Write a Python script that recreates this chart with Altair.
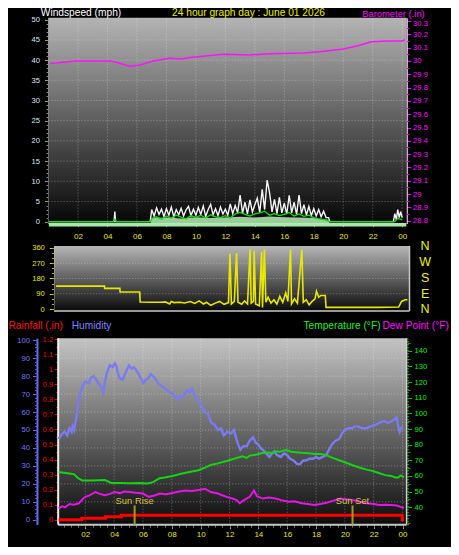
import altair as alt
import pandas as pd

# ---------------- data ----------------
TIME_TICKS = [2, 4, 6, 8, 10, 12, 14, 16, 18, 20, 22, 24]

# wind gust (mph), 10-minute readings 07:00-19:00
GUST_07 = [3.0, 1.4, 3.4, 1.8, 3.1, 1.3]
GUST_08 = [3.2, 1.6, 3.6, 1.2, 3.0, 1.7]
GUST_09 = [3.3, 1.4, 2.9, 3.8, 1.5, 3.1]
GUST_10 = [1.6, 3.5, 1.8, 3.9, 1.3, 3.0]
GUST_11 = [4.3, 1.7, 3.2, 1.5, 3.6, 1.9]
GUST_12 = [3.1, 1.6, 4.4, 2.0, 4.0, 2.2]
GUST_13 = [6.6, 2.1, 4.8, 1.9, 5.4, 2.4]
GUST_14 = [4.2, 5.8, 2.3, 8.0, 3.0, 10.3]
GUST_15 = [7.2, 2.4, 5.5, 2.0, 6.0, 2.2]
GUST_16 = [4.6, 1.9, 6.5, 2.2, 4.8, 1.8]
GUST_17 = [6.6, 2.0, 4.2, 1.6, 3.8, 1.5]
GUST_18 = [3.2, 1.4, 3.0, 1.2, 2.6, 1.0]
GUST_EDGE_H = [0.05, 4.45, 4.5, 4.55, 6.9, 19.0, 19.1, 23.4, 23.5, 23.6, 23.7, 23.8, 23.9, 24.0]
GUST_EDGE_V = [0, 0, 2.5, 0, 0, 1.0, 0, 0, 2.0, 0.5, 3.0, 1.0, 2.5, 1.0]

# average wind (mph), 20-minute readings 07:00-19:00
AVG_V = [0.8, 1.2, 0.6, 1.4, 0.9, 1.6, 1.1, 0.7, 1.5, 1.0, 1.6, 0.9,
         1.7, 1.2, 1.0, 1.5, 0.9, 1.9, 2.3, 1.8, 1.4, 1.9, 2.2, 2.6,
         1.6, 2.0, 1.5, 1.8, 2.3, 1.4, 1.9, 1.3, 1.6, 1.0, 0.7, 0.5, 0.2]
AVG_EDGE_H = [0.05, 4.4, 4.5, 4.6, 6.9, 19.1, 23.5, 23.7, 24.0]
AVG_EDGE_V = [0, 0, 0.6, 0, 0, 0, 0, 0.8, 0.5]

# wind lull (pale green band)
LULL_H = [6.95, 7, 8, 9, 10, 11, 12, 13, 14, 15, 16, 17, 18, 19, 19.05]
LULL_V = [0, 0.9, 1.0, 0.8, 1.1, 0.9, 1.0, 1.2, 1.0, 1.3, 1.1, 1.0, 0.9, 0.5, 0]

# barometer (in)
BARO_H = [0.1, 1.0, 1.8, 3.0, 4.2, 4.6, 5.5, 6.2, 7.1, 8.2, 9.0, 9.5, 10.8, 11.9,
          13.6, 15.1, 17.3, 18.4, 20.0, 21.0, 21.9, 23.0, 24.0, 24.2]
BARO_V = [29.98, 29.99, 30.0, 30.0, 30.0, 29.99, 29.96, 29.97, 30.0, 30.02, 30.015, 30.025,
          30.04, 30.05, 30.045, 30.055, 30.06, 30.07, 30.09, 30.115, 30.145, 30.15, 30.15, 30.16]

# wind direction (degrees)
DIR_H = [0.05, 3.35, 3.36, 4.4, 4.41, 5.75, 5.78, 6.5, 7.2, 7.5, 7.8, 7.9, 8.1, 8.5, 8.8,
         9.2, 9.5, 9.8, 10.1, 10.3, 10.6, 10.9, 11.2, 11.5, 11.8, 11.9, 12.0, 12.2, 12.35,
         12.45, 12.7, 12.9, 13.1, 13.27, 13.35, 13.5, 13.55, 13.65, 13.9, 14.06, 14.12,
         14.25, 14.35, 14.5, 14.7, 14.9, 15.1, 15.3, 15.5, 15.7, 15.85, 16.03, 16.1, 16.3,
         16.5, 16.8, 16.9, 17.1, 17.3, 17.5, 17.7, 17.8, 17.95, 18.1, 18.4, 18.45, 20.0,
         22.0, 23.4, 23.6, 23.85, 24.0]
DIR_V = [135, 135, 122, 122, 100, 100, 42, 40, 40, 42, 30, 45, 38, 40, 36,
         44, 33, 48, 30, 40, 22, 35, 45, 28, 38, 326, 30, 45, 330,
         40, 28, 48, 30, 352, 35, 45, 343, 30, 20, 337, 10,
         352, 40, 70, 35, 55, 30, 75, 40, 95, 45, 350, 30, 60,
         35, 350, 40, 55, 25, 45, 60, 105, 70, 80, 80, 10, 10,
         10, 12, 45, 55, 55]

# humidity (%)
HUM_H = [0.15, 0.4, 0.56, 0.75, 0.9, 1.05, 1.12, 1.23, 1.4, 1.56, 1.79, 2.0, 2.24, 2.4,
         2.57, 2.75, 2.9, 3.1, 3.24, 3.35, 3.47, 3.6, 3.7, 3.9, 4.05, 4.14, 4.25, 4.36,
         4.58, 4.8, 5.03, 5.2, 5.37, 5.55, 5.7, 5.9, 6.04, 6.2, 6.38, 6.55, 6.7, 6.9, 7.05,
         7.2, 7.38, 7.7, 8.05, 8.2, 8.4, 8.55, 8.72, 8.9, 9.06, 9.25, 9.4, 9.55, 9.73, 9.9,
         10.07, 10.3, 10.5, 10.74, 10.96, 11.2, 11.4, 11.6, 11.86, 12.08, 12.3, 12.4, 12.6,
         12.75, 12.95, 13.2, 13.4, 13.64, 13.8, 13.98, 14.15, 14.3, 14.55, 14.77, 14.95,
         15.1, 15.3, 15.55, 15.8, 16.0, 16.2, 16.44, 16.7, 16.9, 17.1, 17.3, 17.55, 17.8,
         18.0, 18.2, 18.45, 18.7, 18.9, 19.1, 19.35, 19.6, 19.8, 20.0, 20.25, 20.5, 20.7,
         20.9, 21.2, 21.5, 21.8, 22.15, 22.4, 22.7, 23.0, 23.27, 23.45, 23.6, 23.7, 23.8,
         23.9, 24.0]
HUM_V = [45, 48, 49, 47, 51, 49, 52, 50, 58, 67, 74, 77, 76, 79,
         80, 78, 76, 74, 71, 76, 81, 84, 86, 85, 87, 86, 82, 79,
         78, 82, 86, 84, 85, 83, 81, 78, 76, 78, 79, 81, 80, 78, 76,
         75, 74, 72, 70, 69, 67, 69, 68, 70, 72, 71, 73, 70, 67, 66,
         63, 60, 59, 54, 53, 50, 51, 47, 49, 48, 50, 47, 42,
         39, 41, 41, 44, 46, 43, 42, 40, 39, 37, 35, 37,
         38, 36, 35, 37, 36, 34, 33, 31, 31, 33, 33, 34, 34,
         35, 34, 35, 36, 39, 42, 44, 45, 48, 50, 51, 51, 52,
         52, 51, 51, 52, 53, 54, 55, 54, 55, 56, 57, 52, 49,
         51, 52]

# temperature (F)
TEMP_H = [0.15, 0.9, 1.23, 1.5, 1.8, 2.5, 3.36, 3.8, 4.5, 5.0, 5.8, 6.3, 6.7, 7.16, 7.5,
          8.05, 8.5, 8.95, 9.4, 9.85, 10.3, 10.7, 11.2, 11.6, 12.0, 12.5, 12.9, 13.2, 13.4,
          13.8, 14.3, 14.7, 15.0, 15.2, 15.5, 15.9, 16.3, 16.6, 17.0, 17.5, 17.9, 18.3, 18.6,
          18.9, 19.2, 19.6, 20.1, 20.5, 21.0, 21.5, 21.9, 22.3, 22.8, 23.2, 23.5, 23.7,
          23.85, 23.95, 24.1]
TEMP_V = [62.5, 61.5, 61, 58.5, 57, 57, 57.3, 55.5, 55.5, 55.3, 55.5, 55.2, 56, 58.5, 59,
          60, 61, 62, 62.8, 63.6, 65.3, 67, 68, 69, 70, 71.5, 72.5, 71.5, 73,
          73.5, 74.6, 75, 74.6, 75.8, 75.5, 76.5, 75.5, 75.2, 74.8, 74.5, 74, 74, 73.6,
          72.5, 71.4, 70, 68.4, 67, 65.4, 64, 63.2, 62, 60.5, 60, 59, 59,
          60.2, 60, 59]

# dew point (F)
DEW_H = [0.15, 0.4, 0.6, 0.9, 1.2, 1.56, 1.8, 2.0, 2.3, 2.7, 3.0, 3.36, 3.7, 4.03, 4.4, 4.7,
         5.1, 5.5, 6.0, 6.4, 6.8, 7.16, 7.6, 8.05, 8.5, 8.95, 9.4, 9.85, 10.3, 10.7, 11.2,
         11.5, 11.8, 12.2, 12.5, 12.7, 13.0, 13.4, 13.7, 13.9, 14.3, 14.7, 15.2, 15.6, 16.1,
         16.5, 17.0, 17.4, 17.9, 18.3, 18.8, 19.2, 19.7, 20.1, 20.6, 21.0, 21.5, 22.0, 22.4,
         22.8, 23.2, 23.6, 23.9, 24.1]
DEW_V = [39.4, 40.5, 39.8, 42, 41.5, 42.5, 45, 46.6, 47.5, 49.7, 48.5, 47.6, 48.5, 49.7, 49, 50,
         49.7, 49.2, 48.7, 46.6, 47.5, 48.7, 48.2, 49, 50, 50.7, 50.3, 51, 51.8, 49.7, 48.7,
         47.6, 46.6, 45.5, 44.5, 42.5, 44.5, 46.6, 50.7, 47, 45.5, 46.2, 45.5, 44.5, 43.5,
         43.8, 42.5, 42, 41.4, 42, 43, 44.2, 45.5, 45, 44.5, 43.5, 42.5, 42, 41.4,
         41.6, 41.4, 41, 40, 39.6]

# rainfall (in), cumulative step
RAIN_H = [0.15, 1.75, 3.4, 4.5, 23.98, 24.1]
RAIN_V = [0.0, 0.01, 0.02, 0.03, 0.0, 0.0]

# sun events
SUN_LABELS = ["Sun Rise", "Sun Set"]
SUN_H = [5.42, 20.53]

COMPASS = ["N", "W", "S", "E", "N"]
COMPASS_DEG = [369, 274, 183, 86, 0]

# ---------------- geometry (reference pixels -> chart pixels) ----------------
W, H = 443, 539
SX, SY = W / 459.0, H / 555.0


def px(v):
    return v * SX


def py(v):
    return v * SY


FONT = "Liberation Sans"


def xscale(dom, left, right):
    return alt.Scale(domain=dom, range=[px(left), px(right)], nice=False, zero=False)


def yscale(dom, bottom, top):
    return alt.Scale(domain=dom, range=[py(bottom), py(top)], nice=False, zero=False)


XT_DOM = [0, 24.3]
XT = xscale(XT_DOM, 42, 413)
YW_DOM = [-0.48, 50.5]
YW = yscale(YW_DOM, 222, 10)
YB_DOM = [28.778, 30.325]
YB = yscale(YB_DOM, 222, 10)

XM_DOM = [-0.07, 24.14]
XM = xscale(XM_DOM, 48, 416)
YD_DOM = [-11.4, 371.4]
YD = yscale(YD_DOM, 312, 245)

XL_DOM = [0.12, 24.28]
XL = xscale(XL_DOM, 52, 413)
YH_DOM = [-2.7, 101.1]
YH = yscale(YH_DOM, 532, 340)
YR_DOM = [-0.032, 1.206]
YR = yscale(YR_DOM, 532, 340)
YT_DOM = [28.8, 148.1]
YT = yscale(YT_DOM, 532, 340)


# ---------------- helpers ----------------
def panel_bg(xs, xd, ys, yd, c_top, c_bot):
    df = pd.DataFrame({"x": [xd[0]], "x2": [xd[1]], "y": [yd[0]], "y2": [yd[1]]})
    grad = alt.LinearGradient(
        gradient="linear",
        stops=[alt.GradientStop(color=c_top, offset=0), alt.GradientStop(color=c_bot, offset=1)],
        x1=0, x2=0, y1=0, y2=1)
    return alt.Chart(df).mark_rect(fill=grad).encode(
        x=alt.X("x:Q", scale=xs, axis=None), x2="x2:Q",
        y=alt.Y("y:Q", scale=ys, axis=None), y2="y2:Q")


def rule_kw(color, width, dash, opacity):
    kw = dict(color=color, strokeWidth=width, opacity=opacity)
    if dash:
        kw["strokeDash"] = dash
    return kw


def vlines(xs, vals, ys, lo, hi, color, width=1, dash=None, opacity=1.0):
    df = pd.DataFrame({"x": vals, "y": [lo] * len(vals), "y2": [hi] * len(vals)})
    return alt.Chart(df).mark_rule(**rule_kw(color, width, dash, opacity)).encode(
        x=alt.X("x:Q", scale=xs, axis=None),
        y=alt.Y("y:Q", scale=ys, axis=None), y2="y2:Q")


def hlines(ys, vals, xs, lo, hi, color, width=1, dash=None, opacity=1.0):
    df = pd.DataFrame({"y": vals, "x": [lo] * len(vals), "x2": [hi] * len(vals)})
    return alt.Chart(df).mark_rule(**rule_kw(color, width, dash, opacity)).encode(
        y=alt.Y("y:Q", scale=ys, axis=None),
        x=alt.X("x:Q", scale=xs, axis=None), x2="x2:Q")


def series(xs, ys, hs, vs, color, width, interpolate=None, opacity=1.0):
    df = pd.DataFrame({"h": hs, "v": vs})
    kw = dict(color=color, strokeWidth=width, opacity=opacity)
    if interpolate:
        kw["interpolate"] = interpolate
    return alt.Chart(df).mark_line(**kw).encode(
        x=alt.X("h:Q", scale=xs, axis=None),
        y=alt.Y("v:Q", scale=ys, axis=None))


BASE_AXIS = dict(grid=False, title=None, labelFont=FONT, labelFlush=False, labelOverlap=False)


def y_axis(xs, xd, ys, yd, **kw):
    df = pd.DataFrame({"x": [xd[0], xd[0]], "y": yd})
    ax = dict(BASE_AXIS)
    ax.update(kw)
    return alt.Chart(df).mark_point(opacity=0).encode(
        x=alt.X("x:Q", scale=xs, axis=None),
        y=alt.Y("y:Q", scale=ys, axis=alt.Axis(**ax)))


def x_axis(xs, xd, ys, yd, **kw):
    df = pd.DataFrame({"x": xd, "y": [yd[0], yd[0]]})
    ax = dict(BASE_AXIS)
    ax.update(kw)
    return alt.Chart(df).mark_point(opacity=0).encode(
        x=alt.X("x:Q", scale=xs, axis=alt.Axis(**ax)),
        y=alt.Y("y:Q", scale=ys, axis=None))


def title_text(txt, x, y, color, align="left", size=10.2):
    return alt.Chart(pd.DataFrame({"t": [txt]})).mark_text(
        align=align, baseline="alphabetic", font=FONT, fontSize=size, color=color
    ).encode(text="t:N", x=alt.value(px(x)), y=alt.value(py(y)))


TIME_EXPR = "datum.value == 24 ? '00' : (datum.value < 10 ? '0' + datum.value : '' + datum.value)"
GRID = dict(color="white", width=1, dash=[1, 2], opacity=0.35)

layers = []

# ================= TOP PANEL: wind speed + barometer =================
layers.append(panel_bg(XT, XT_DOM, YW, YW_DOM, "#b4b4b4", "#060606"))
layers.append(vlines(XT, TIME_TICKS, YW, YW_DOM[0], YW_DOM[1], **GRID))
layers.append(hlines(YW, [5, 10, 15, 20, 25, 30, 35, 40, 45], XT, XT_DOM[0], XT_DOM[1], **GRID))
layers.append(hlines(YW, [-0.75], XT, 0.02, 24.28, "#a8e8a8", 3.5))

lull_df = pd.DataFrame({"h": LULL_H, "v": LULL_V, "b": [-0.5] * len(LULL_H)})
layers.append(alt.Chart(lull_df).mark_area(color="#b4f0b4", opacity=0.85).encode(
    x=alt.X("h:Q", scale=XT, axis=None),
    y=alt.Y("v:Q", scale=YW, axis=None), y2="b:Q"))

gust_blocks = [GUST_07, GUST_08, GUST_09, GUST_10, GUST_11, GUST_12,
               GUST_13, GUST_14, GUST_15, GUST_16, GUST_17, GUST_18]
gust_h, gust_v = [], []
for k, blk in enumerate(gust_blocks):
    for j, v in enumerate(blk):
        gust_h.append(7 + k + j / 6.0)
        gust_v.append(v)
gh = GUST_EDGE_H + gust_h
gv = GUST_EDGE_V + gust_v
order = sorted(range(len(gh)), key=lambda i: gh[i])
layers.append(series(XT, YW, [gh[i] for i in order], [gv[i] for i in order], "#f4f4f4", 1.4))

avg_h = [7 + i / 3.0 for i in range(len(AVG_V))]
ah = AVG_EDGE_H + avg_h
av = AVG_EDGE_V + AVG_V
order = sorted(range(len(ah)), key=lambda i: ah[i])
layers.append(series(XT, YW, [ah[i] for i in order], [av[i] for i in order], "#10e010", 1.3))

layers.append(series(XT, YB, BARO_H, BARO_V, "#ff10ff", 1.5))

layers.append(y_axis(XT, XT_DOM, YW, YW_DOM, orient="left", offset=-px(42),
                     values=list(range(0, 51, 5)), tickSize=4, tickColor="#a0a0a0",
                     domainColor="#d8d8d8", domainWidth=1.5, labelColor="#dde8ff",
                     labelFontSize=7.6, labelPadding=5))
layers.append(y_axis(XT, XT_DOM, YW, YW_DOM, orient="left", offset=-px(42),
                     values=list(range(0, 51)), tickSize=2.5, tickColor="#8a8a8a",
                     domain=False, labels=False))
layers.append(y_axis(XT, XT_DOM, YB, YB_DOM, orient="right", offset=px(413) - W,
                     values=[round(28.8 + 0.1 * i, 1) for i in range(16)], format=".3~r",
                     labelOffset={"condition": {"test": "datum.value > 30.25", "value": 2.8},
                                  "value": 0},
                     tickSize=4, tickColor="#ff00ff", domainColor="#f0c8f0", domainWidth=1.5,
                     labelColor="#ff10ff", labelFontSize=7.6, labelPadding=2))
layers.append(y_axis(XT, XT_DOM, YB, YB_DOM, orient="right", offset=px(413) - W,
                     values=[round(28.85 + 0.1 * i, 2) for i in range(15)],
                     tickSize=2.5, tickColor="#d000d0", domain=False, labels=False))
layers.append(x_axis(XT, XT_DOM, YW, YW_DOM, orient="bottom", offset=py(222) - H,
                     values=TIME_TICKS, labelExpr=TIME_EXPR, tickSize=3, tickColor="#909090",
                     domain=False, labelColor="#e8e800", labelFontSize=8, labelPadding=6))

# ================= MIDDLE PANEL: wind direction =================
layers.append(panel_bg(XM, XM_DOM, YD, YD_DOM, "#b6b6b6", "#0a0a0a"))
layers.append(hlines(YD, [90, 180, 270], XM, XM_DOM[0], XM_DOM[1], **GRID))
layers.append(hlines(YD, [YD_DOM[0]], XM, XM_DOM[0], XM_DOM[1], "#c8c8c8", 1.5))
layers.append(vlines(XM, [XM_DOM[1]], YD, YD_DOM[0], YD_DOM[1], "#c8c8c8", 1.5))
layers.append(series(XM, YD, DIR_H, DIR_V, "#e8e800", 1.6))
comp_df = pd.DataFrame({"c": COMPASS, "d": COMPASS_DEG, "x": [25.2] * len(COMPASS)})
layers.append(alt.Chart(comp_df).mark_text(font=FONT, fontSize=12.5, color="#f0f000",
                                            baseline="middle", align="center").encode(
    x=alt.X("x:Q", scale=XM, axis=None), y=alt.Y("d:Q", scale=YD, axis=None), text="c:N"))
layers.append(y_axis(XM, XM_DOM, YD, YD_DOM, orient="left", offset=-px(48),
                     values=[0, 90, 180, 270, 360], tickSize=5, tickColor="#e0e000",
                     domainColor="#e0e0e0", domainWidth=1.5, labelColor="#e8e800",
                     labelFontSize=7.6, labelPadding=5))
layers.append(y_axis(XM, XM_DOM, YD, YD_DOM, orient="left", offset=-px(48),
                     values=list(range(0, 361, 30)), tickSize=3, tickColor="#b0b000",
                     domain=False, labels=False))

# ================= BOTTOM PANEL: rain, humidity, temperature, dew point =================
layers.append(panel_bg(XL, XL_DOM, YH, YH_DOM, "#c4c4c4", "#0c0c0c"))
layers.append(vlines(XL, TIME_TICKS, YH, YH_DOM[0], YH_DOM[1], **GRID))
layers.append(hlines(YH, [10, 20, 30, 40, 50, 60, 70, 80, 90], XL, XL_DOM[0], XL_DOM[1], **GRID))
layers.append(hlines(YH, [YH_DOM[0]], XL, XL_DOM[0], XL_DOM[1], "#c8c8c8", 2))
layers.append(vlines(XL, [XL_DOM[1]], YH, YH_DOM[0], YH_DOM[1], "#d0d0d0", 1.5))
layers.append(vlines(XL, [XL_DOM[0]], YH, YH_DOM[0], YH_DOM[1], "#f0f0f0", 2))

layers.append(series(XL, YH, HUM_H, HUM_V, "#7a7af2", 2.4))
layers.append(series(XL, YT, TEMP_H, TEMP_V, "#14d414", 2))
layers.append(series(XL, YT, DEW_H, DEW_V, "#e614e6", 2))
layers.append(series(XL, YR, RAIN_H, RAIN_V, "#ff0000", 3, interpolate="step-after"))

sun_df = pd.DataFrame({"s": SUN_LABELS, "h": SUN_H, "lo": [-2.7, -2.7], "hi": [8.0, 8.0],
                       "ty": [10.4, 10.4]})
layers.append(alt.Chart(sun_df).mark_rule(color="#a89820", strokeWidth=2).encode(
    x=alt.X("h:Q", scale=XL, axis=None),
    y=alt.Y("lo:Q", scale=YH, axis=None), y2="hi:Q"))
layers.append(alt.Chart(sun_df).mark_text(font=FONT, fontSize=9.4, color="#d4c03c",
                                           baseline="middle", align="center").encode(
    x=alt.X("h:Q", scale=XL, axis=None),
    y=alt.Y("ty:Q", scale=YH, axis=None), text="s:N"))

layers.append(y_axis(XL, XL_DOM, YH, YH_DOM, orient="left", offset=-px(30),
                     values=list(range(0, 101, 10)), tickSize=4.5, tickColor="#6c6cf0",
                     domainColor="#6c6cf0", domainWidth=2, labelColor="#7878ff",
                     labelFontSize=7.6, labelPadding=3))
layers.append(y_axis(XL, XL_DOM, YH, YH_DOM, orient="left", offset=-px(30),
                     values=list(range(0, 101, 2)), tickSize=2.5, tickColor="#5a5ad0",
                     domain=False, labels=False))
layers.append(y_axis(XL, XL_DOM, YR, YR_DOM, orient="left", offset=-px(52),
                     values=[round(0.1 * i, 1) for i in range(13)], format="~g",
                     tickSize=4, tickColor="#e00000", domainColor="#ff2020", domainWidth=1.5,
                     domainDash=[2, 2], labelColor="#ee0000", labelFontSize=7.6, labelPadding=1.5))
layers.append(y_axis(XL, XL_DOM, YR, YR_DOM, orient="left", offset=-px(52),
                     values=[round(0.05 + 0.1 * i, 2) for i in range(12)], tickSize=2.5,
                     tickColor="#c00000", domain=False, labels=False))
layers.append(y_axis(XL, XL_DOM, YT, YT_DOM, orient="right", offset=px(414) - W,
                     values=list(range(40, 141, 10)), tickSize=4, tickColor="#00dd00",
                     domainColor="#30d030", domainWidth=1.5, domainDash=[1, 2],
                     labelColor="#10ee10", labelFontSize=7.6, labelPadding=2.5))
layers.append(y_axis(XL, XL_DOM, YT, YT_DOM, orient="right", offset=px(414) - W,
                     values=list(range(30, 146, 5)), tickSize=2.5, tickColor="#00b000",
                     domain=False, labels=False))
layers.append(x_axis(XL, XL_DOM, YH, YH_DOM, orient="bottom", offset=py(532) - H,
                     values=TIME_TICKS, labelExpr=TIME_EXPR, tickSize=4, tickColor="#a0a0a0",
                     domain=False, labelColor="#e8e800", labelFontSize=8, labelPadding=2))
layers.append(x_axis(XL, XL_DOM, YH, YH_DOM, orient="bottom", offset=py(532) - H,
                     values=[0.5 * i for i in range(1, 49)], tickSize=2.5, tickColor="#707070",
                     domain=False, labels=False))

# ================= titles =================
layers.append(title_text("Windspeed (mph)", 34, 8.3, "#ffffff"))
layers.append(title_text("24 hour graph day : June 01 2026", 170, 8.3, "#f0f000"))
layers.append(title_text("Barometer (.in)", 367, 9.06, "#ff10ff", size=9.4))
layers.append(title_text("Rainfall (.in)", 0.5, 330.5, "#ff1010"))
layers.append(title_text("Humidity", 66, 330.5, "#8080ff"))
layers.append(title_text("Temperature (°F)", 386, 330.5, "#20ee20", align="right"))
layers.append(title_text("Dew Point (°F)", 388, 330.5, "#ff10ff"))

chart = alt.layer(*layers).resolve_scale(x="independent", y="independent").properties(
    width=W, height=H, padding=0, autosize=alt.AutoSizeParams(type="none"),
    background="black"
).configure_view(stroke=None)

chart.save("out.html", embed_options={"renderer": "svg", "actions": False})
